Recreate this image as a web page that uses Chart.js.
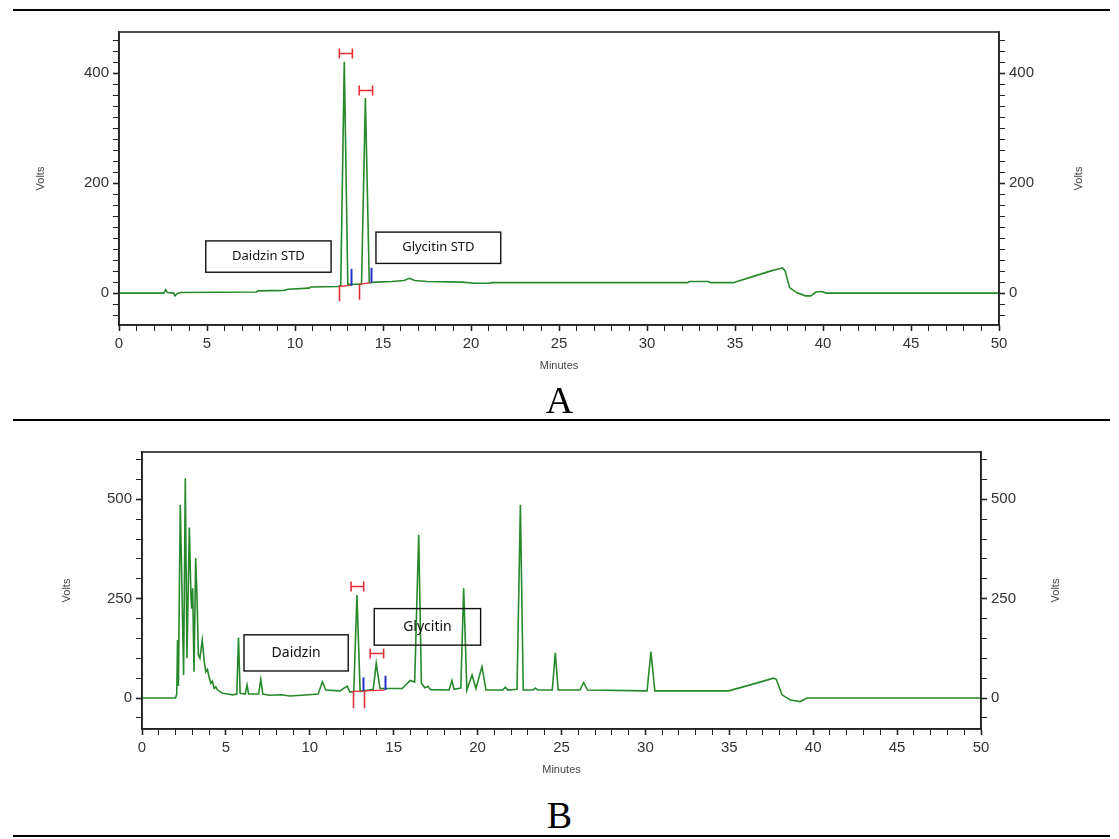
<!DOCTYPE html>
<html>
<head>
<meta charset="utf-8">
<script src="https://cdn.jsdelivr.net/npm/chart.js@4.4.0/dist/chart.umd.min.js"></script>
<style>
  html, body { margin: 0; padding: 0; background: #fff; }
  body { width: 1119px; height: 839px; position: relative; overflow: hidden; }
  .rule { position: absolute; left: 13px; width: 1097px; height: 2px; background: #000; }
  .panel-label { position: absolute; left: 0; width: 1119px; text-align: center;
                 font-family: 'Liberation Serif', serif; font-size: 38px; line-height: 38px; color: #000; }
  canvas { position: absolute; left: 0; }
</style>
</head>
<body>
<div class="rule" style="top:9px"></div>
<canvas id="chartA" width="1119" height="385" style="top:0"></canvas>
<div class="panel-label" style="top:381px">A</div>
<div class="rule" style="top:419px"></div>
<canvas id="chartB" width="1119" height="355" style="top:430px"></canvas>
<div class="panel-label" style="top:796px">B</div>
<div class="rule" style="top:835px"></div>

<script>
// Panel A - standard mix chromatogram (minutes / volts)
const timeA = [0, 2.55, 2.65, 2.75, 3.1, 3.18, 3.3, 3.5, 7.8, 7.9, 9.4, 9.6, 10.8, 10.9,
  12.45, 12.6, 12.8, 13.0, 13.6, 13.78, 14.0, 14.22, 14.6, 15.5, 16.2, 16.5, 16.8, 17.5,
  19.5, 20.2, 21.0, 21.2, 32.3, 32.4, 33.5, 33.6, 34.9, 36.0, 37.0, 37.7, 37.85, 38.1,
  38.5, 39.0, 39.3, 39.6, 39.9, 40.2, 50];
const voltsA = [0, 0, 6, 1, 0, -5, -1, 1, 2, 4, 5, 7, 9, 11,
  12, 14, 421, 16, 16, 17, 355, 19, 20, 21, 23, 27, 23, 21,
  20, 18, 18, 19, 19, 21, 21, 19, 19, 30, 40, 46, 40, 10,
  1, -5, -5, 2, 3, 0, 0];

// Panel B - sample chromatogram
const timeB = [0, 2.0, 2.07, 2.12, 2.17, 2.28, 2.35, 2.48, 2.58, 2.68, 2.82, 2.92, 2.96, 3.02,
  3.1, 3.2, 3.28, 3.36, 3.45, 3.59, 3.7, 3.8, 3.9, 3.97, 4.1, 4.2, 4.3, 4.4, 4.5, 4.8, 5.1,
  5.4, 5.65, 5.75, 5.85, 6.15, 6.26, 6.35, 6.95, 7.08, 7.2, 7.6, 8.3, 8.8, 9.5, 10.5, 10.75,
  10.95, 11.8, 12.22, 12.4, 12.62, 12.81, 13.0, 13.78, 13.96, 14.18, 15.5, 15.99, 16.25,
  16.49, 16.65, 16.85, 17.04, 17.2, 18.3, 18.47, 18.6, 19.0, 19.17, 19.36, 19.67, 19.9,
  20.26, 20.5, 21.5, 21.65, 21.8, 22.35, 22.55, 22.72, 23.3, 23.44, 23.6, 24.45, 24.63,
  24.8, 26.1, 26.32, 26.55, 30.1, 30.33, 30.56, 34.96, 36.25, 37.64, 37.8, 38.14, 38.64,
  39.23, 39.63, 50];
const voltsB = [0, 0, 10, 146, 30, 486, 343, 58, 553, 100, 429, 251, 225, 276,
  66, 352, 251, 108, 100, 146, 95, 66, 72, 58, 37, 42, 24, 28, 20, 12, 10,
  8, 10, 152, 12, 10, 33, 10, 10, 47, 10, 7, 8, 5, 7, 10, 41,
  20, 18, 30, 15, 16, 259, 16, 22, 87, 24, 24, 44, 40,
  411, 37, 26, 29, 21, 20, 44, 22, 25, 276, 20, 58, 24,
  79, 20, 20, 27, 20, 22, 486, 20, 20, 25, 20, 20, 114,
  20, 20, 39, 20, 18, 117, 18, 18, 33, 50, 47, 8, -5,
  -9, 0, 0];

// tick labels
const minuteLabels = [0, 5, 10, 15, 20, 25, 30, 35, 40, 45, 50];
const voltLabelsA = [0, 200, 400];
const voltLabelsB = [0, 250, 500];

// peak names
const peakNamesA = ['Daidzin STD', 'Glycitin STD'];
const peakNamesB = ['Daidzin', 'Glycitin'];

// annotation layout in data units (minutes, volts)
const marksA = {
  boxes: [
    { text: peakNamesA[0], x0: 4.93, x1: 12.05, y0: 38, y1: 95 },
    { text: peakNamesA[1], x0: 14.6, x1: 21.69, y0: 54, y1: 111 }
  ],
  font: '13px "Noto Sans"',
  widthBars: [{ x0: 12.52, x1: 13.26, y: 436 }, { x0: 13.65, x1: 14.41, y: 370 }],
  startTicks: [{ x: 12.5, y0: -15, y1: 12 }, { x: 13.65, y0: -12, y1: 15 }],
  endTicks: [{ x: 13.16, y0: 13, y1: 44 }, { x: 14.3, y0: 19, y1: 46 }],
  baselines: [{ x0: 12.5, y0: 12, x1: 13.16, y1: 14 }, { x0: 13.65, y0: 16, x1: 14.3, y1: 19 }],
  rightTitleOffset: 80
};
const marksB = {
  boxes: [
    { text: peakNamesB[0], x0: 6.08, x1: 12.29, y0: 68, y1: 159 },
    { text: peakNamesB[1], x0: 13.84, x1: 20.18, y0: 133, y1: 225 }
  ],
  font: '14px "Noto Sans"',
  widthBars: [{ x0: 12.46, x1: 13.21, y: 282 }, { x0: 13.6, x1: 14.4, y: 113 }],
  startTicks: [{ x: 12.55, y0: -26, y1: 17 }, { x: 13.21, y0: -26, y1: 17 }],
  endTicks: [{ x: 13.15, y0: 18, y1: 52 }, { x: 14.46, y0: 20, y1: 56 }],
  baselines: [{ x0: 12.55, y0: 17, x1: 13.15, y1: 17 }, { x0: 13.21, y0: 18, x1: 14.46, y1: 20 }],
  rightTitleOffset: 75
};

const TRACE = '#26892a';
const AXIS = '#222';
const LABEL = '#333';
const RED = '#e62e3a';
const BLUE = '#2233cc';

// draws frame, labelled boxes, integration marks and right-hand axis title
function peakMarkPlugin(marks) {
  return {
    id: 'peakMarks',
    afterDatasetsDraw(chart) {
      const { ctx, chartArea: a, scales } = chart;
      const x = scales.x, y = scales.y;
      ctx.save();

      ctx.strokeStyle = AXIS;
      ctx.lineWidth = 1.6;
      ctx.strokeRect(a.left, a.top, a.right - a.left, a.bottom - a.top);

      // integration baselines
      ctx.strokeStyle = RED;
      ctx.lineWidth = 1.3;
      marks.baselines.forEach(b => {
        ctx.beginPath();
        ctx.moveTo(x.getPixelForValue(b.x0), y.getPixelForValue(b.y0));
        ctx.lineTo(x.getPixelForValue(b.x1), y.getPixelForValue(b.y1));
        ctx.stroke();
      });

      // peak start (red) and end (blue) ticks
      ctx.lineWidth = 1.6;
      marks.startTicks.forEach(t => {
        const px = Math.round(x.getPixelForValue(t.x)) + 0.5;
        ctx.beginPath();
        ctx.moveTo(px, y.getPixelForValue(t.y0));
        ctx.lineTo(px, y.getPixelForValue(t.y1));
        ctx.stroke();
      });
      ctx.strokeStyle = BLUE;
      ctx.lineWidth = 2;
      marks.endTicks.forEach(t => {
        const px = Math.round(x.getPixelForValue(t.x)) + 0.5;
        ctx.beginPath();
        ctx.moveTo(px, y.getPixelForValue(t.y0));
        ctx.lineTo(px, y.getPixelForValue(t.y1));
        ctx.stroke();
      });

      // peak width bars  |-|
      ctx.strokeStyle = RED;
      ctx.lineWidth = 1.6;
      marks.widthBars.forEach(w => {
        const l = x.getPixelForValue(w.x0), r = x.getPixelForValue(w.x1);
        const py = Math.round(y.getPixelForValue(w.y)) + 0.5;
        ctx.beginPath();
        ctx.moveTo(l, py); ctx.lineTo(r, py);
        ctx.moveTo(l, py - 5); ctx.lineTo(l, py + 5);
        ctx.moveTo(r, py - 5); ctx.lineTo(r, py + 5);
        ctx.stroke();
      });

      // labelled boxes
      ctx.strokeStyle = '#111';
      ctx.lineWidth = 1.4;
      ctx.fillStyle = '#111';
      ctx.font = marks.font;
      ctx.textAlign = 'center';
      ctx.textBaseline = 'middle';
      marks.boxes.forEach(b => {
        const l = x.getPixelForValue(b.x0), r = x.getPixelForValue(b.x1);
        const t = y.getPixelForValue(b.y1), btm = y.getPixelForValue(b.y0);
        ctx.strokeRect(l, t, r - l, btm - t);
        ctx.fillText(b.text, (l + r) / 2, (t + btm) / 2);
      });

      // right axis title, reading bottom to top like the left one
      ctx.fillStyle = '#444';
      ctx.font = '11px "Liberation Sans"';
      ctx.translate(a.right + marks.rightTitleOffset, (a.top + a.bottom) / 2);
      ctx.rotate(-Math.PI / 2);
      ctx.fillText('Volts', 0, 0);
      ctx.restore();
    }
  };
}

function axisTicks(labels, step) {
  return {
    stepSize: step,
    autoSkip: false,
    maxRotation: 0,
    includeBounds: false,
    padding: 4,
    color: LABEL,
    font: { family: 'Liberation Sans', size: 15 },
    callback: v => labels.includes(v) ? String(v) : ''
  };
}

function axisGrid(labels) {
  return {
    drawOnChartArea: false,
    drawTicks: true,
    tickLength: 6,
    tickColor: AXIS,
    tickWidth: c => (c.tick && labels.includes(c.tick.value)) ? 1.6 : 1
  };
}

function buildChart(id, times, volts, opts) {
  const points = times.map((t, i) => ({ x: t, y: volts[i] }));
  const titleFont = { family: 'Liberation Sans', size: 11 };
  return new Chart(document.getElementById(id), {
    type: 'line',
    data: {
      datasets: [{
        data: points,
        borderColor: TRACE,
        borderWidth: 1.6,
        pointRadius: 0,
        tension: 0,
        fill: false
      }]
    },
    options: {
      responsive: false,
      animation: false,
      events: [],
      layout: { padding: { top: opts.padTop, left: 0, right: 0, bottom: 0 } },
      plugins: { legend: { display: false }, tooltip: { enabled: false } },
      scales: {
        x: {
          type: 'linear', position: 'bottom', min: 0, max: 50,
          ticks: axisTicks(minuteLabels, 1),
          grid: axisGrid(minuteLabels),
          border: { display: true, color: AXIS, width: 1.6 },
          title: { display: true, text: 'Minutes', color: '#444', font: titleFont,
                   padding: { top: 0, bottom: opts.xTitlePad } },
          afterFit: s => { s.height = opts.xHeight; }
        },
        y: {
          type: 'linear', position: 'left', min: opts.yMin, max: opts.yMax,
          ticks: axisTicks(opts.yLabels, opts.yStep),
          grid: axisGrid(opts.yLabels),
          border: { display: true, color: AXIS, width: 1.6 },
          title: { display: true, text: 'Volts', color: '#444', font: titleFont,
                   padding: { top: opts.yTitlePad, bottom: 0 } },
          afterFit: s => { s.width = opts.leftWidth; }
        },
        y2: {
          type: 'linear', position: 'right', min: opts.yMin, max: opts.yMax,
          ticks: axisTicks(opts.yLabels, opts.yStep),
          grid: axisGrid(opts.yLabels),
          border: { display: true, color: AXIS, width: 1.6 },
          afterFit: s => { s.width = opts.rightWidth; }
        }
      }
    },
    plugins: [peakMarkPlugin(opts.marks)]
  });
}

buildChart('chartA', timeA, voltsA, {
  yMin: -58, yMax: 475, yStep: 20, yLabels: voltLabelsA,
  padTop: 32, xHeight: 60, leftWidth: 119, rightWidth: 120,
  xTitlePad: 12, yTitlePad: 34, marks: marksA
});

buildChart('chartB', timeB, voltsB, {
  yMin: -78, yMax: 619, yStep: 50, yLabels: voltLabelsB,
  padTop: 22, xHeight: 56, leftWidth: 142, rightWidth: 138,
  xTitlePad: 8, yTitlePad: 60, marks: marksB
});
</script>
</body>
</html>
